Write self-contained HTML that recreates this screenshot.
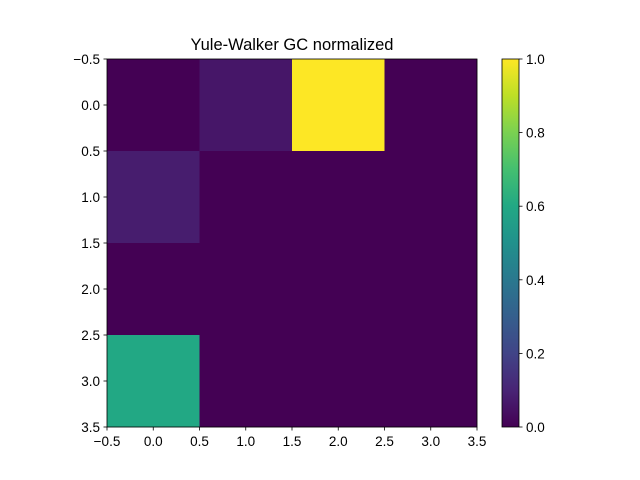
<!DOCTYPE html>
<html><head><meta charset="utf-8"><style>
body{margin:0;background:#fff;}
svg{display:block;font-family:"Liberation Sans","DejaVu Sans",sans-serif;}
</style></head><body>
<svg id="c" width="640" height="480">
<defs><linearGradient id="vg" x1="0" y1="1" x2="0" y2="0">
<stop offset="0" stop-color="#440154"/><stop offset="0.1" stop-color="#482475"/><stop offset="0.2" stop-color="#414487"/><stop offset="0.3" stop-color="#355f8d"/><stop offset="0.4" stop-color="#2a788e"/><stop offset="0.5" stop-color="#21918c"/><stop offset="0.6" stop-color="#22a884"/><stop offset="0.7" stop-color="#44bf70"/><stop offset="0.8" stop-color="#7ad151"/><stop offset="0.9" stop-color="#bddf26"/><stop offset="1" stop-color="#fde725"/>
</linearGradient></defs>
<text x="292" y="50" font-size="16.5" text-anchor="middle">Yule-Walker GC normalized</text>
<g id="cells"></g><g id="axes"></g>
</svg>
<script>
const rows=[0,1,2,3];
const cols=[0,1,2,3];
const values=[[0,0.06,1,0],[0.08,0,0,0],[0,0,0,0],[0.6,0,0,0]];
const axisTicks=[-0.5,0,0.5,1,1.5,2,2.5,3,3.5];
const cbTicks=[0,0.2,0.4,0.6,0.8,1];
const cbLabels=["0.0","0.2","0.4","0.6","0.8","1.0"];
const stops=["#440154","#482475","#414487","#355f8d","#2a788e","#21918c","#22a884","#44bf70","#7ad151","#bddf26","#fde725"];
function hx(c){return [1,3,5].map(i=>parseInt(c.substr(i,2),16));}
function viridis(v){v=Math.max(0,Math.min(1,v));const p=v*10,i=Math.min(9,Math.floor(p)),t=p-i;const a=hx(stops[i]),b=hx(stops[i+1]);return `rgb(${a.map((x,k)=>Math.round(x+(b[k]-x)*t)).join(',')})`;}
const X0=107,X1=477,Y0=59,Y1=427;
const xs=v=>X0+(v+0.5)/4*(X1-X0);
const ys=v=>Y0+(v+0.5)/4*(Y1-Y0);
const CB0=502,CB1=519;
const cy=v=>Y1-v*(Y1-Y0);
const NS="http://www.w3.org/2000/svg";
function mk(t,a,p){const e=document.createElementNS(NS,t);for(const k in a)e.setAttribute(k,a[k]);p.appendChild(e);return e;}
const cells=document.getElementById('cells'),ax=document.getElementById('axes');
rows.forEach(r=>cols.forEach(c=>{
 const e=mk('rect',{x:xs(c-0.5),y:ys(r-0.5),width:xs(c+0.5)-xs(c-0.5)+0.3,height:ys(r+0.5)-ys(r-0.5)+0.3,fill:viridis(values[r][c])},cells);
 
 
}));
const fr=mk('rect',{x:X0,y:Y0,width:X1-X0,height:Y1-Y0,fill:'none',stroke:'#000','stroke-width':0.8},ax);


axisTicks.forEach(t=>{
 const lbl=(t<0?'\u2212':'')+Math.abs(t).toFixed(1);
 mk('line',{x1:xs(t),x2:xs(t),y1:Y1,y2:Y1+3.5,stroke:'#000','stroke-width':0.8},ax);
 const tx=mk('text',{x:xs(t),y:Y1+19,'font-size':'13.5px','text-anchor':'middle'},ax);tx.textContent=lbl;
 
 
 mk('line',{x1:X0-3.5,x2:X0,y1:ys(t),y2:ys(t),stroke:'#000','stroke-width':0.8},ax);
 const ty=mk('text',{x:X0-7,y:ys(t)+5,'font-size':'13.5px','text-anchor':'end'},ax);ty.textContent=lbl;
 
 
});
const cb=mk('rect',{x:CB0,y:Y0,width:CB1-CB0,height:Y1-Y0,fill:'url(#vg)',stroke:'#000','stroke-width':0.8},ax);


cbTicks.forEach((t,i)=>{
 mk('line',{x1:CB1,x2:CB1+3.5,y1:cy(t),y2:cy(t),stroke:'#000','stroke-width':0.8},ax);
 const e=mk('text',{x:CB1+7,y:cy(t)+5,'font-size':'13.5px'},ax);e.textContent=cbLabels[i];
 
 
});
</script>
</body></html>
